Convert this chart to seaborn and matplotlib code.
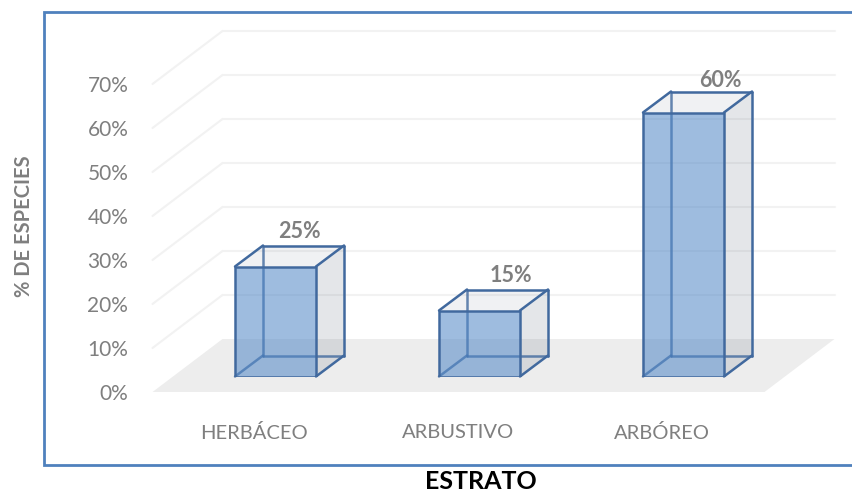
import matplotlib
matplotlib.use("Agg")
import matplotlib.pyplot as plt
import pandas as pd
import seaborn as sns
from matplotlib.colors import to_rgba
from matplotlib.lines import Line2D
from matplotlib.patches import Polygon
from matplotlib.transforms import Affine2D, IdentityTransform

categorias = ["HERBÁCEO", "ARBUSTIVO", "ARBÓREO"]
especies = [25, 15, 60]
ticks_y = [0, 10, 20, 30, 40, 50, 60, 70]
etiquetas_y = ["0%", "10%", "20%", "30%", "40%", "50%", "60%", "70%"]

W, H = 852, 492
GRIS = "#7F7F7F"
AZUL = "#4F86C6"
BORDE = "#41699E"

sns.set_theme(style="white")
plt.rcParams["font.family"] = ["Lato", "DejaVu Sans"]

df = pd.DataFrame({"Estrato": categorias, "Especies": especies})

fig = plt.figure(figsize=(W / 100, H / 100), dpi=100)
ax = fig.add_axes([173.5 / W, (H - 376.5) / H, 612 / W, 352 / H])

sns.barplot(data=df, x="Estrato", y="Especies", color=AZUL, saturation=1,
            width=0.397, edgecolor=BORDE, linewidth=1.8, ax=ax, zorder=5)
barras = list(ax.patches)
ax.set_xlim(-0.5, 2.5)
ax.set_ylim(0, 80)
sns.despine(ax=ax, left=True, bottom=True)


def poli(puntos, color, z):
    ax.add_artist(Polygon(puntos, closed=True, facecolor=color, edgecolor="none",
                          transform=IdentityTransform(), clip_on=False, zorder=z))


def linea(a, b, color, lw, z, alpha=1):
    ax.add_artist(Line2D([a[0], b[0]], [a[1], b[1]], color=color, lw=lw, alpha=alpha,
                         transform=IdentityTransform(), clip_on=False, zorder=z,
                         solid_capstyle="round"))


# plano del piso y lineas de la grilla (pared + piso en perspectiva)
frente = (-21, -15.5)
fondo = (49, 37.5)
x0, x1 = ax.get_xlim()


def pix(x, y, d=(0, 0)):
    px, py = ax.transData.transform((x, y))
    return (px + d[0], py + d[1])


poli([pix(x0, 0, frente), pix(x1, 0, frente), pix(x1, 0, fondo), pix(x0, 0, fondo)], "#EDEDED", 0.5)
for t in ticks_y[1:]:
    linea(pix(x0, t, frente), pix(x0, t, fondo), "#F2F2F2", 1.5, 0.6)
    linea(pix(x0, t, fondo), pix(x1, t, fondo), "#F2F2F2", 1.5, 0.6)

# caras 3D de cada barra, a partir de la barra que dibuja seaborn
prof = (28, 21)
lado = to_rgba("#44546A", 0.14)
techo = to_rgba("#44546A", 0.08)
for p in barras:
    p.set_facecolor(to_rgba(AZUL, 0.55))
    a, b = p.get_x(), p.get_x() + p.get_width()
    h = p.get_height()
    fi, fd, si, sd = pix(a, 0), pix(b, 0), pix(a, h), pix(b, h)
    d = lambda q: (q[0] + prof[0], q[1] + prof[1])
    poli([fd, d(fd), d(sd), sd], lado, 2)
    poli([si, sd, d(sd), d(si)], techo, 2)
    # aristas del frente y del fondo
    for q, r in [(si, d(si)), (sd, d(sd)), (d(si), d(sd)), (d(sd), d(fd)), (fd, d(fd))]:
        linea(q, r, BORDE, 1.8, 6)
    for q, r in [(d(si), d(fi)), (d(fi), d(fd)), (fi, d(fi))]:
        linea(q, r, BORDE, 1.8, 3, alpha=0.8)

# etiquetas de valor
corrimientos = [(24, 35), (31, 35.5), (36.5, 32)]
for p, v, (dx, dy) in zip(barras, especies, corrimientos):
    ax.annotate(f"{v}%", (p.get_x() + p.get_width() / 2, p.get_height()),
                xytext=(dx * 0.72, dy * 0.72), textcoords="offset points",
                ha="center", va="center", fontsize=15.5, fontweight="bold",
                color=GRIS, annotation_clip=False, zorder=7)

# ejes: las etiquetas van sobre el borde frontal del piso
ax.set_yticks(ticks_y)
ax.set_yticklabels(etiquetas_y)
ax.tick_params(axis="y", length=0, pad=32.5, labelsize=15, labelcolor=GRIS)
ax.tick_params(axis="x", length=0, pad=34.5, labelsize=14.5, labelcolor=GRIS)
for lab in ax.get_yticklabels():
    lab.set_transform(lab.get_transform() + Affine2D().translate(0, -16))
for lab in ax.get_xticklabels():
    lab.set_transform(lab.get_transform() + Affine2D().translate(-21.5, 0))

ax.set_xlabel("ESTRATO", fontsize=18, fontweight="bold", color="black")
ax.xaxis.set_label_coords(0.5025, (376.5 - 481.5) / 352)
ax.xaxis.label.set_verticalalignment("center")
ax.set_ylabel("% DE ESPECIES", fontsize=14.5, fontweight="bold", color=GRIS)
ax.yaxis.set_label_coords((24 - 173.5) / 612, (376.5 - 226) / 352)
ax.yaxis.label.set_verticalalignment("center")

# marco azul del grafico (abierto por la derecha, sale de la imagen)
marco = "#4F81BD"
fx = lambda v: v / W
fy = lambda v: (H - v) / H
fig.add_artist(Line2D([fx(W + 5), fx(44), fx(44), fx(W + 5)], [fy(12), fy(12), fy(465), fy(465)],
                      color=marco, lw=2, solid_joinstyle="miter"))

fig.savefig("out.png", dpi=100)
